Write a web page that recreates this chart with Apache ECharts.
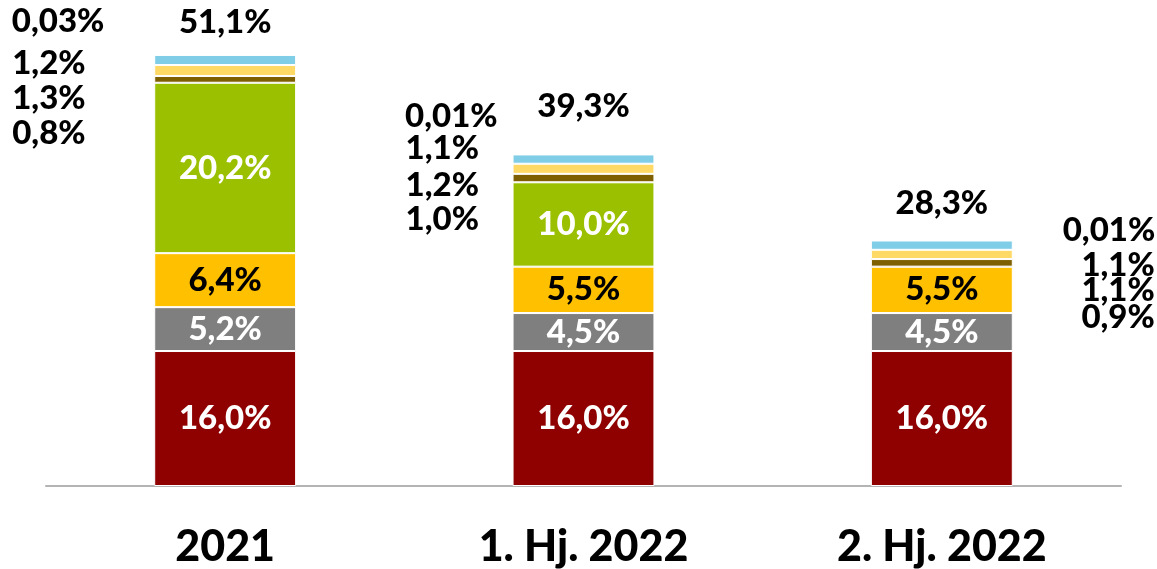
<!DOCTYPE html>
<html>
<head>
<meta charset="utf-8">
<script src="https://cdn.jsdelivr.net/npm/echarts@6/dist/echarts.min.js"></script>
<style>
	html, body { margin: 0; padding: 0; background: #fff; }
	#chart { width: 1157px; height: 569px; }
</style>
</head>
<body>
<div id="chart"></div>
<script>
// Kategorien und Werte (in %)
var categories = ['2021', '1. Hj. 2022', '2. Hj. 2022'];
var red = [16.0, 16.0, 16.0];
var gray = [5.2, 4.5, 4.5];
var orange = [6.4, 5.5, 5.5];
var green = [20.2, 10.0, 0];
var brown = [0.8, 1.0, 0.9];
var lightYellow = [1.3, 1.2, 1.1];
var lightBlue = [1.2, 1.1, 1.1];
var tiny = [0.03, 0.01, 0.01];
var totals = [51.1, 39.3, 28.3];

var font = 'Lato, "Open Sans", sans-serif';
var labelSize = 33;

function fmt(v, d) {
	return v.toFixed(d).replace('.', ',') + '%';
}

// Seitenbeschriftungen der dünnen Segmente: x-Abstand je Balken, y-Versatz je Segment
var sideDx = [-142, -107, 142];
var sideDy = [
	[54, 28, 3, -33],
	[41, 17, -11, -38],
	[55, 36, 20, -10]
];
var totalDy = [-32, -48, -37];

function innerSeries(name, data, color, textColor) {
	return {
		name: name,
		type: 'bar',
		stack: 'total',
		barWidth: '39.6%',
		data: data,
		itemStyle: { color: color, borderColor: '#fff', borderWidth: 1 },
		label: {
			show: true,
			position: 'inside',
			color: textColor,
			fontFamily: font,
			fontWeight: 900,
			fontSize: labelSize,
			formatter: function(p) { return p.value ? fmt(p.value, 1) : ''; }
		}
	};
}

function sideSeries(name, data, color, k, digits) {
	return {
		name: name,
		type: 'bar',
		stack: 'total',
		data: data,
		itemStyle: { color: color, borderColor: '#fff', borderWidth: 1 },
		label: {
			show: true,
			position: 'inside',
			color: '#000',
			fontFamily: font,
			fontWeight: 900,
			fontSize: labelSize,
			formatter: function(p) { return fmt(p.value, digits); }
		},
		labelLayout: function(p) {
			var i = p.dataIndex;
			var r = p.rect;
			var right = sideDx[i] > 0;
			return {
				x: right ? r.x + r.width + sideDx[i] : r.x + sideDx[i],
				y: r.y + r.height / 2 + sideDy[i][k],
				align: right ? 'right' : 'left',
				verticalAlign: 'middle'
			};
		}
	};
}

var chart = echarts.init(document.getElementById('chart'));
var option = {
	animation: false,
	grid: { left: 46, right: 36, top: 22, bottom: 83 },
	xAxis: {
		type: 'category',
		data: categories,
		axisLine: { lineStyle: { color: '#b4b4b4', width: 2 } },
		axisTick: { show: false },
		axisLabel: {
			color: '#000',
			fontFamily: font,
			fontWeight: 900,
			fontSize: 43,
			margin: 40
		}
	},
	yAxis: { type: 'value', min: 0, max: 55, show: false },
	series: [
		innerSeries('rot', red, '#8f0000', '#fff'),
		innerSeries('grau', gray, '#7f7f7f', '#fff'),
		innerSeries('orange', orange, '#ffc000', '#000'),
		innerSeries('grün', green, '#9bc000', '#fff'),
		sideSeries('braun', brown, '#7f6000', 0, 1),
		sideSeries('hellgelb', lightYellow, '#ffd966', 1, 1),
		sideSeries('hellblau', lightBlue, '#7fcde7', 2, 1),
		sideSeries('rest', tiny, '#4472c4', 3, 2),
		{
			name: 'Summe',
			type: 'bar',
			stack: 'total',
			data: [0, 0, 0],
			itemStyle: { color: 'transparent' },
			label: {
				show: true,
				position: 'top',
				color: '#000',
				fontFamily: font,
				fontWeight: 900,
				fontSize: labelSize,
				formatter: function(p) { return fmt(totals[p.dataIndex], 1); }
			},
			labelLayout: function(p) {
				return {
					x: p.rect.x + p.rect.width / 2,
					y: p.rect.y + totalDy[p.dataIndex],
					align: 'center',
					verticalAlign: 'middle'
				};
			}
		}
	]
};
chart.setOption(option);
</script>
</body>
</html>
